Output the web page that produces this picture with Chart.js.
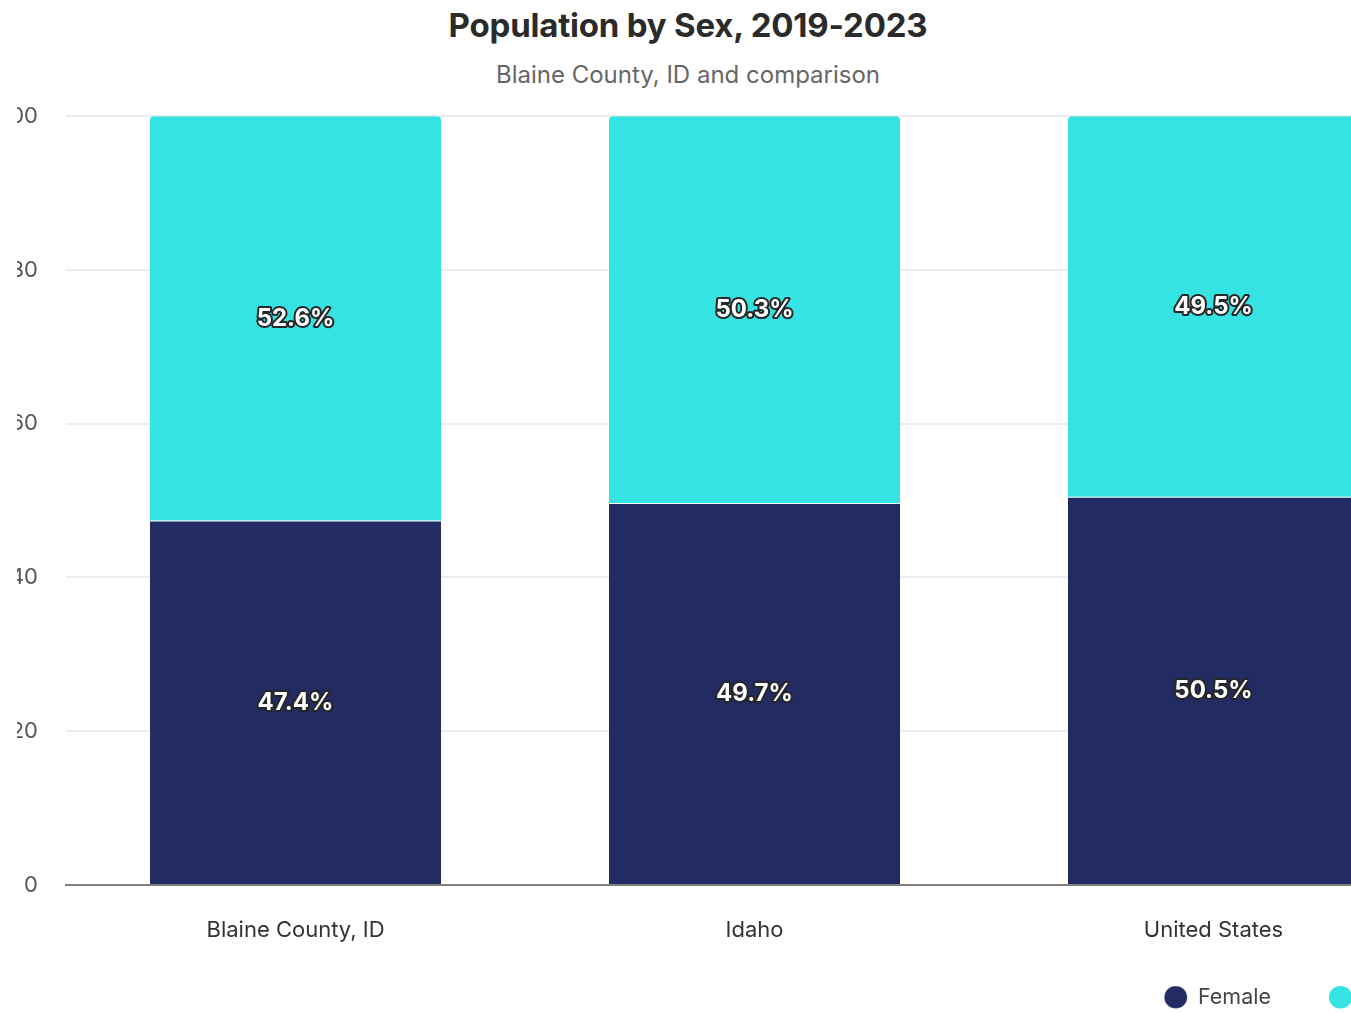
<!DOCTYPE html>
<html>
<head>
<meta charset="utf-8">
<script src="https://cdn.jsdelivr.net/npm/chart.js@4"></script>
<style>
  html, body { margin: 0; padding: 0; background: #ffffff; overflow: hidden; }
  body { width: 1351px; height: 1013px; position: relative; font-family: Inter, "Noto Sans", sans-serif; }
  .heading { position: absolute; left: 25px; width: 1326px; text-align: center; white-space: nowrap; }
  #title { top: 5px; font-size: 33px; font-weight: 700; color: #2b2b2b; letter-spacing: -0.2px; }
  #subtitle { top: 60px; font-size: 24px; font-weight: 400; color: #666666; }
  #frame { position: absolute; left: 17px; top: 0; width: 1334px; height: 1013px; overflow: hidden; }
  #holder { position: absolute; left: -17px; top: 75px; width: 1470px; height: 943px; }
</style>
</head>
<body>
<div id="title" class="heading">Population by Sex, 2019-2023</div>
<div id="subtitle" class="heading">Blaine County, ID and comparison</div>
<div id="frame">
  <div id="holder"><canvas id="chart" width="1470" height="943"></canvas></div>
</div>
<script>
// Share of population by sex, 2019-2023 ACS estimates
const categories = ['Blaine County, ID', 'Idaho', 'United States'];
const femaleShare = [47.4, 49.7, 50.5];
const maleShare = [52.6, 50.3, 49.5];
const yTicks = [0, 20, 40, 60, 80, 100];

const FONT = 'Inter, "Noto Sans", sans-serif';

// Writes each segment's percentage in white with a dark outline
const segmentLabels = {
  id: 'segmentLabels',
  afterDatasetsDraw(chart) {
    const ctx = chart.ctx;
    ctx.save();
    ctx.font = `700 24px ${FONT}`;
    ctx.textAlign = 'center';
    ctx.textBaseline = 'middle';
    ctx.lineJoin = 'round';
    chart.data.datasets.forEach((ds, di) => {
      const meta = chart.getDatasetMeta(di);
      meta.data.forEach((bar, i) => {
        const text = ds.data[i].toFixed(1) + '%';
        const cy = (bar.y + bar.base) / 2;
        ctx.lineWidth = 4;
        ctx.strokeStyle = '#262626';
        ctx.strokeText(text, bar.x, cy);
        ctx.fillStyle = '#ffffff';
        ctx.fillText(text, bar.x, cy);
      });
    });
    ctx.restore();
  }
};

new Chart(document.getElementById('chart'), {
  type: 'bar',
  data: {
    labels: categories,
    datasets: [
      {
        label: 'Female',
        data: femaleShare,
        backgroundColor: '#222b62',
        borderColor: '#ffffff',
        borderWidth: { top: 1, left: 0, right: 0, bottom: 0 },
        borderSkipped: false
      },
      {
        label: 'Male',
        data: maleShare,
        backgroundColor: '#34e3e2',
        borderWidth: 0,
        borderRadius: { topLeft: 4, topRight: 4, bottomLeft: 0, bottomRight: 0 },
        borderSkipped: false
      }
    ]
  },
  options: {
    responsive: false,
    animation: false,
    devicePixelRatio: 1,
    layout: { padding: 0 },
    datasets: {
      bar: { categoryPercentage: 1, barPercentage: 0.634 }
    },
    scales: {
      x: {
        stacked: true,
        afterFit(scale) {
          // compact axis box so the legend sits close; labels may spill below it
          scale.height = 43.5;
          scale.paddingRight = 27;
          scale._computeLabelArea = () => undefined;
        },
        grid: { display: false, drawTicks: false },
        border: { display: true, color: '#7f7f7f', width: 2 },
        ticks: { padding: 32.4, color: '#333333', font: { family: FONT, size: 22 } }
      },
      y: {
        stacked: true,
        min: 0,
        max: 100,
        afterFit(scale) { scale.width = 66; },
        afterBuildTicks(scale) { scale.ticks = yTicks.map(v => ({ value: v })); },
        grid: { color: '#ececec', lineWidth: 2, drawTicks: false },
        border: { display: false },
        ticks: { padding: 28, color: '#555555', font: { family: FONT, size: 22 } }
      }
    },
    plugins: {
      legend: {
        position: 'bottom',
        align: 'end',
        labels: {
          usePointStyle: true,
          pointStyle: 'circle',
          pointStyleWidth: 23,
          boxHeight: 16,
          padding: 58,
          color: '#444444',
          font: { family: FONT, size: 21.5 }
        }
      },
      title: { display: false },
      tooltip: { enabled: false }
    }
  },
  plugins: [segmentLabels]
});
</script>
</body>
</html>
